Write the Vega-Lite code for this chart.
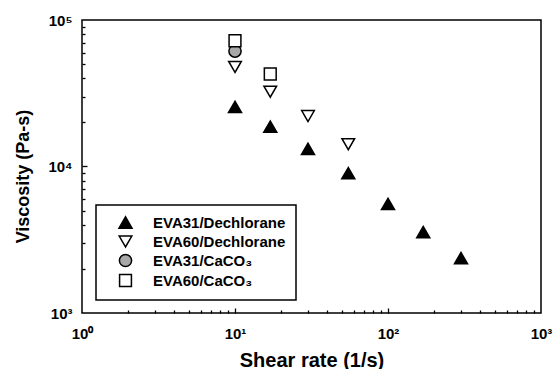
{
  "$schema": "https://vega.github.io/schema/vega-lite/v6.json",
  "width": 459,
  "height": 293,
  "autosize": {"type": "none"},
  "padding": {"left": 82, "top": 20, "right": 16, "bottom": 56},
  "background": "white",
  "config": {
    "font": "Liberation Sans",
    "view": {"stroke": "black", "strokeWidth": 1.5},
    "legend": {"strokeWidth": 1.5},
    "axis": {
      "domain": false,
      "tickColor": "black",
      "tickWidth": 1.3,
      "grid": false,
      "zindex": 1,
      "labelFont": "Liberation Sans",
      "labelFontWeight": "bold",
      "labelFontSize": 15,
      "labelColor": "black",
      "titleFont": "Liberation Sans",
      "titleFontWeight": "bold",
      "titleColor": "black"
    }
  },
  "data": {
    "values": [
      {"series": "EVA31/Dechlorane", "rate": 10, "viscosity": 25500},
      {"series": "EVA31/Dechlorane", "rate": 17, "viscosity": 18700},
      {"series": "EVA31/Dechlorane", "rate": 30, "viscosity": 13200},
      {"series": "EVA31/Dechlorane", "rate": 55, "viscosity": 9000},
      {"series": "EVA31/Dechlorane", "rate": 100, "viscosity": 5550},
      {"series": "EVA31/Dechlorane", "rate": 170, "viscosity": 3570},
      {"series": "EVA31/Dechlorane", "rate": 300, "viscosity": 2370},
      {"series": "EVA60/Dechlorane", "rate": 10, "viscosity": 47800},
      {"series": "EVA60/Dechlorane", "rate": 17, "viscosity": 32400},
      {"series": "EVA60/Dechlorane", "rate": 30, "viscosity": 22100},
      {"series": "EVA60/Dechlorane", "rate": 55, "viscosity": 14200},
      {"series": "EVA31/CaCO₃", "rate": 10, "viscosity": 61400},
      {"series": "EVA60/CaCO₃", "rate": 10, "viscosity": 72200},
      {"series": "EVA60/CaCO₃", "rate": 17, "viscosity": 42800}
    ]
  },
  "resolve": {"axis": {"x": "independent", "y": "independent"}},
  "layer": [
    {
      "mark": {"type": "point", "opacity": 0},
      "encoding": {
        "x": {
          "field": "rate",
          "type": "quantitative",
          "scale": {"type": "log", "domain": [1, 1000], "nice": false},
          "axis": {
            "orient": "bottom",
            "title": null,
            "labels": false,
            "values": [2,3,4,5,6,7,8,9,20,30,40,50,60,70,80,90,200,300,400,500,600,700,800,900],
            "offset": -3,
            "tickSize": 3
          }
        },
        "y": {
          "field": "viscosity",
          "type": "quantitative",
          "scale": {"type": "log", "domain": [1000, 100000], "nice": false},
          "axis": {
            "orient": "left",
            "title": null,
            "labels": false,
            "values": [2000,3000,4000,5000,6000,7000,8000,9000,20000,30000,40000,50000,60000,70000,80000,90000],
            "offset": -3,
            "tickSize": 3
          }
        }
      }
    },
    {
      "mark": {"type": "point", "opacity": 0},
      "encoding": {
        "x": {
          "field": "rate",
          "type": "quantitative",
          "scale": {"type": "log", "domain": [1, 1000], "nice": false},
          "axis": {
            "orient": "bottom",
            "title": null,
            "labels": false,
            "values": [10, 100],
            "offset": -5,
            "tickSize": 5
          }
        },
        "y": {
          "field": "viscosity",
          "type": "quantitative",
          "scale": {"type": "log", "domain": [1000, 100000], "nice": false},
          "axis": {
            "orient": "left",
            "title": null,
            "labels": false,
            "values": [10000],
            "offset": -5,
            "tickSize": 5
          }
        }
      }
    },
    {
      "mark": {"type": "point", "filled": true, "stroke": "black", "strokeWidth": 1.5, "opacity": 1},
      "encoding": {
        "x": {
          "field": "rate",
          "type": "quantitative",
          "scale": {"type": "log", "domain": [1, 1000], "nice": false},
          "axis": {
            "orient": "bottom",
            "title": "Shear rate (1/s)",
            "titleFontSize": 20,
            "values": [1, 10, 100, 1000],
            "labelExpr": "datum.value == 1 ? '10⁰' : datum.value == 10 ? '10¹' : datum.value == 100 ? '10²' : '10³'",
            "ticks": false,
            "labelPadding": 13,
            "labelFlush": false,
            "labelOverlap": false,
            "titlePadding": 9
          }
        },
        "y": {
          "field": "viscosity",
          "type": "quantitative",
          "scale": {"type": "log", "domain": [1000, 100000], "nice": false},
          "axis": {
            "orient": "left",
            "title": "Viscosity (Pa-s)",
            "titleFontSize": 18,
            "titleY": 156,
            "values": [1000, 10000, 100000],
            "labelExpr": "datum.value == 1000 ? '10³' : datum.value == 10000 ? '10⁴' : '10⁵'",
            "ticks": false,
            "labelPadding": 10,
            "labelFlush": false,
            "labelOverlap": false,
            "titlePadding": 15
          }
        },
        "shape": {
          "field": "series",
          "type": "nominal",
          "scale": {
            "domain": ["EVA31/Dechlorane", "EVA60/Dechlorane", "EVA31/CaCO₃", "EVA60/CaCO₃"],
            "range": ["triangle-up", "triangle-down", "circle", "square"]
          },
          "legend": {
            "title": null,
            "orient": "none",
            "legendX": 14,
            "legendY": 185,
            "padding": 10,
            "strokeColor": "black",
            "fillColor": "white",
            "symbolOffset": 12,
            "labelOffset": 20,
            "rowPadding": 1,
            "labelFont": "Liberation Sans",
            "labelFontWeight": "bold",
            "labelFontSize": 15,
            "labelColor": "black",
            "symbolStrokeColor": "black",
            "symbolStrokeWidth": 1.5
          }
        },
        "fill": {
          "field": "series",
          "type": "nominal",
          "scale": {
            "domain": ["EVA31/Dechlorane", "EVA60/Dechlorane", "EVA31/CaCO₃", "EVA60/CaCO₃"],
            "range": ["black", "white", "#a8a8a8", "white"]
          }
        },
        "size": {
          "field": "series",
          "type": "nominal",
          "scale": {
            "domain": ["EVA31/Dechlorane", "EVA60/Dechlorane", "EVA31/CaCO₃", "EVA60/CaCO₃"],
            "range": [170, 140, 100, 110]
          }
        }
      }
    }
  ]
}
